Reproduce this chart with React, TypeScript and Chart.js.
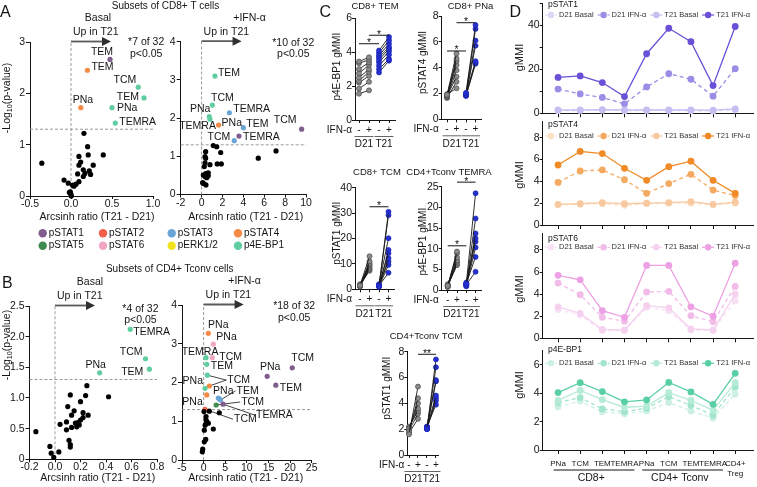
import React, { useEffect, useRef } from "react";
import { Chart, registerables } from "chart.js";

Chart.register(...registerables);

const FONT = "'Liberation Sans', Arial, Helvetica, sans-serif";
const INK = "#151515";

/* ======================= DATA ======================= */
const markerNames = ["pSTAT1", "pSTAT2", "pSTAT3", "pSTAT4", "pSTAT5", "pSTAT6", "pERK1/2", "p4E-BP1"];
const markerColors = ["#7f5d8e", "#f2604b", "#6aa5d8", "#f58a46", "#3f8b4f", "#f1a6c4", "#f0e21c", "#5fcda0"];
const pCutoff = 0.05;

// Panel A — CD8+ T cells, basal
const cd8BasalNsX = [-0.356, 0.158, 0.203, 0.393, 0.097, 0.21, 0.118, 0.097, 0.271, 0.15, 0.081, 0.15, 0.223, 0.239, 0.097, 0.061, -0.085, -0.033, 0.02, -0.008, 0.0, 0.004, -0.02, 0.17, 0.036];
const cd8BasalNsY = [0.64, 1.22, 0.96, 0.8, 0.77, 0.8, 0.66, 0.6, 0.6, 0.51, 0.43, 0.38, 0.49, 0.42, 0.28, 0.23, 0.31, 0.25, 0.21, 0.08, 0.03, 0.0, 0.07, 0.44, 0.19];
const cd8BasalSigX = [0.476, 0.2, 0.12, 0.82, 0.89, 0.5, 0.54];
const cd8BasalSigY = [2.66, 2.45, 1.72, 2.12, 1.91, 1.72, 1.42];
const cd8BasalSigMarker = ["pSTAT1", "pSTAT4", "pSTAT4", "p4E-BP1", "p4E-BP1", "p4E-BP1", "p4E-BP1"];
const cd8BasalSigSubset = ["TEM", "TEM", "PNa", "TCM", "TEM", "PNa", "TEMRA"];

// Panel A — CD8+ T cells, +IFN-α
const cd8IfnNsX = [1.12, 1.45, 1.83, 1.5, 1.89, 0.39, 0.39, 0.33, 0.8, 0.26, 0.39, 0.64, 0.17, 0.33, 0.64, 0.49, 0.1, 0.42, 0.17, 5.43, 7.13, 0.33];
const cd8IfnNsY = [1.28, 1.25, 1.1, 0.8, 0.8, 1.12, 0.95, 0.83, 0.78, 0.73, 0.55, 0.57, 0.51, 0.47, 0.49, 0.44, 0.31, 0.25, 0.29, 0.95, 1.14, 0.99];
const cd8IfnSigX = [1.28, 1.03, 0.74, 0.8, 1.63, 2.66, 4.0, 3.13, 3.58, 9.58];
const cd8IfnSigY = [3.1, 2.34, 2.04, 1.97, 1.82, 2.14, 1.75, 1.41, 1.53, 1.71];
const cd8IfnSigMarker = ["p4E-BP1", "p4E-BP1", "p4E-BP1", "p4E-BP1", "pSTAT4", "pSTAT3", "pSTAT3", "pSTAT3", "pSTAT1", "pSTAT1"];
const cd8IfnSigSubset = ["TEM", "TCM", "PNa", "TEMRA", "PNa", "TEMRA", "TEM", "TCM", "TEMRA", "TCM"];

// Panel B — CD4+ Tconv, basal
const cd4BasalNsX = [0.25, 0.12, 0.24, 0.42, 0.2, 0.1, 0.15, 0.13, 0.22, 0.26, 0.22, 0.04, 0.09, 0.2, 0.18, 0.16, 0.19, 0.17, 0.09, -0.15, 0.11, 0.12, 0.12, -0.04, 0.03, -0.03, -0.01, 0.13];
const cd4BasalNsY = [1.2, 1.05, 1.04, 1.02, 0.94, 0.86, 0.79, 0.72, 0.76, 0.72, 0.68, 0.57, 0.61, 0.64, 0.6, 0.59, 0.56, 0.53, 0.48, 0.45, 0.31, 0.24, 0.2, 0.21, 0.12, 0.1, 0.03, 0.52];
const cd4BasalSigX = [0.59, 0.71, 0.74, 0.35];
const cd4BasalSigY = [2.12, 1.64, 1.47, 1.41];
const cd4BasalSigMarker = ["p4E-BP1", "p4E-BP1", "p4E-BP1", "p4E-BP1"];
const cd4BasalSigSubset = ["TEMRA", "TCM", "TEM", "PNa"];

// Panel B — CD4+ Tconv, +IFN-α
const cd4IfnNsX = [1.32, 3.63, 0.56, 0.56, 1.09, 0.72, 2.24, 0.16, 0.49, 0.16, -0.21, -0.3, 0.09, 0.35];
const cd4IfnNsY = [1.26, 1.22, 1.12, 1.03, 0.95, 0.99, 0.8, 0.77, 0.53, 0.47, 0.28, 0.21, 1.25, 0.9];
const cd4IfnSigX = [1.09, 2.24, 0.56, 2.0, 0.72, 0.86, 1.32, 0.33, 0.72, 3.4, 3.9, 3.6, 2.9, 4.5, 0.33, 14.7, 16.7, 20.5];
const cd4IfnSigY = [3.27, 2.99, 2.64, 2.64, 2.47, 2.19, 1.91, 1.85, 1.68, 1.6, 1.55, 1.58, 1.42, 1.44, 1.31, 2.16, 1.93, 2.38];
const cd4IfnSigMarker = ["pSTAT4", "pSTAT6", "p4E-BP1", "pSTAT6", "p4E-BP1", "p4E-BP1", "pSTAT4", "p4E-BP1", "pSTAT4", "pSTAT3", "pSTAT3", "pSTAT3", "pSTAT5", "pSTAT1", "pSTAT2", "pSTAT1", "pSTAT1", "pSTAT1"];
const cd4IfnSigSubset = ["PNa", "PNa", "TEMRA", "TCM", "TEM", "TCM", "TCM", "PNa", "PNa", "PNa", "TEM", "TCM", "TCM", "TEMRA", "TCM", "PNa", "TEM", "TCM"];

// Panel C — paired donors (D21 / T21, basal / IFN-α)
const ifnTickLabels = ["-", "+", "-", "+"];
const cd8TemD21Basal = [3.45, 3.35, 3.0, 2.75, 2.5, 2.3, 2.2, 1.85, 1.55];
const cd8TemD21Ifn = [3.7, 3.55, 3.4, 3.25, 3.0, 2.85, 2.6, 2.25, 1.75];
const cd8TemT21Basal = [4.1, 3.95, 3.8, 3.7, 3.55, 3.4, 3.2, 3.0, 2.8];
const cd8TemT21Ifn = [4.9, 4.7, 4.5, 4.3, 4.2, 4.05, 3.85, 3.6, 3.5];

const cd8PnaD21Basal = [1.9, 1.85, 1.8, 1.75, 1.7, 1.8, 1.65, 1.95];
const cd8PnaD21Ifn = [5.1, 4.7, 4.5, 4.2, 3.8, 3.3, 2.9, 2.4];
const cd8PnaT21Basal = [2.05, 1.95, 1.9, 1.85, 2.0, 1.9, 1.8];
const cd8PnaT21Ifn = [7.3, 7.0, 6.1, 5.7, 4.5, 4.4, 4.3];

const cd8TcmD21Basal = [1.5, 1.2, 1.8, 1.0, 2.0, 1.4, 1.6, 1.3, 1.7];
const cd8TcmD21Ifn = [13.0, 11.0, 10.2, 9.8, 9.3, 8.8, 8.3, 7.8, 7.3];
const cd8TcmT21Basal = [1.2, 1.5, 2.0, 1.0, 1.8, 1.3, 1.6, 1.1, 1.4];
const cd8TcmT21Ifn = [30.5, 29.2, 20.1, 15.5, 14.2, 12.2, 10.9, 9.6, 6.5];

const cd4TemraD21Basal = [1.0, 0.8, 1.2, 0.7, 1.4, 0.9, 1.1];
const cd4TemraD21Ifn = [9.3, 8.9, 7.9, 7.2, 6.8, 6.4, 6.0];
const cd4TemraT21Basal = [1.5, 1.2, 0.9, 1.8, 1.4, 1.0, 1.6, 1.3];
const cd4TemraT21Ifn = [23.4, 17.3, 13.7, 12.5, 11.7, 10.3, 8.0, 4.4];

const cd4TcmD21Basal = [1.6, 1.8, 2.0, 2.1, 2.2, 1.9, 1.7];
const cd4TcmD21Ifn = [5.3, 4.4, 4.0, 3.6, 3.4, 3.2, 2.8];
const cd4TcmT21Basal = [2.0, 2.1, 2.2, 2.05, 2.15, 2.0, 2.1, 2.2];
const cd4TcmT21Ifn = [7.4, 6.8, 5.8, 5.7, 4.6, 4.4, 4.2, 3.9];

// Panel D — mean gMMI per subset
const dCategories: any[] = ["PNa", "TCM", "TEM", "TEMRA", "PNa", "TCM", "TEM", "TEMRA", ["CD4+", "Treg"]];
const dSeriesNames = ["D21 Basal", "D21 IFN-α", "T21 Basal", "T21 IFN-α"];
const dGroups: any[] = [["CD8+", 0, 3], ["CD4+ Tconv", 4, 7]];

const pstat1D21Basal = [1.2, 1.3, 1.4, 1.2, 1.3, 1.3, 1.2, 1.1, 1.6];
const pstat1D21Ifn = [11.0, 8.8, 7.2, 4.3, 12.0, 18.0, 15.5, 7.8, 20.3];
const pstat1T21Basal = [1.5, 1.5, 1.7, 1.5, 1.5, 1.5, 1.5, 1.4, 2.0];
const pstat1T21Ifn = [16.3, 17.0, 14.0, 7.6, 27.1, 38.7, 32.6, 12.6, 39.5];

const pstat4D21Basal = [1.85, 1.9, 1.95, 1.8, 1.95, 2.0, 2.0, 1.85, 2.0];
const pstat4D21Ifn = [3.9, 4.95, 5.05, 4.15, 2.9, 3.8, 4.65, 3.2, 2.7];
const pstat4T21Basal = [1.9, 1.95, 2.05, 1.95, 2.0, 2.05, 2.15, 1.9, 2.1];
const pstat4T21Ifn = [5.5, 6.75, 6.55, 5.2, 4.1, 5.35, 5.85, 4.1, 2.9];

const pstat6D21Basal = [2.6, 2.1, 0.7, 0.7, 2.8, 2.5, 0.75, 0.7, 3.4];
const pstat6D21Ifn = [5.0, 3.95, 1.9, 1.55, 4.2, 4.25, 2.05, 1.5, 4.7];
const pstat6T21Basal = [2.85, 2.25, 0.8, 0.75, 2.95, 2.75, 0.85, 0.75, 4.0];
const pstat6T21Ifn = [5.7, 5.3, 2.5, 1.9, 6.6, 6.6, 2.85, 2.0, 6.8];

const p4ebp1D21Basal = [3.05, 3.45, 2.7, 2.55, 2.75, 3.35, 2.75, 2.25, 3.95];
const p4ebp1D21Ifn = [3.35, 3.7, 2.9, 2.7, 2.95, 3.75, 3.15, 2.45, 4.45];
const p4ebp1T21Basal = [3.5, 4.2, 3.55, 3.0, 3.1, 4.05, 3.5, 2.8, 4.75];
const p4ebp1T21Ifn = [4.05, 4.75, 4.12, 3.4, 3.53, 4.77, 4.1, 3.22, 5.41];

/* ======================= STYLE / LAYOUT ======================= */
// label placement: [dx, dy, align, mode] mode: 0 plain, 1 leader+text, 2 leader only, 3 none
const cd8BasalLabelStyle: any[] = [[-8, -7, "c"], [4, -3, "l"], [2, -8, "c"], [-2, -7, "r"], [-5, -1, "r"], [5, 0, "l"], [4, -1, "l"]];
const cd8IfnLabelStyle: any[] = [[3, -3, "l"], [10, -7, "c"], [1, -7, "r"], [6, 7, "r"], [3, -2, "l"], [4, -4, "l"], [3, -4, "l"], [-4, -4, "r"], [4, 1, "l"], [-5, -9, "r"]];
const cd4BasalLabelStyle: any[] = [[3, 3, "l"], [-3, -7, "r"], [-6, 3, "r"], [-4, -8, "c"]];
const cd4IfnLabelStyle: any[] = [[10, -8, "c"], [3, -7, "l"], [-6, -6, "c"], [7, -1, "l"], [4, 2, "l"], [20, 5, "l", 1], [18, -6, "l", 2], [-2, -7, "r"], [-4, 7, "r"], [5, -7, "c"], [16, -9, "l", 1], [0, 0, "l", 3], [25, -3, "l", 1], [33, 11, "l", 1], [29, 10, "l", 1], [3, -9, "c"], [4, 3, "l"], [-1, -10, "l"]];

const ALIGN: any = { l: "left", c: "center", r: "right" };

const range = (min: number, max: number, step: number) => {
  const out: number[] = [];
  const n = Math.floor((max - min) / step + 1e-9);
  for (let i = 0; i <= n; i++) out.push(+(min + i * step).toFixed(6));
  return out;
};

function fixY(box: any) {
  return (s: any) => {
    s.width = box.l - box.L;
    s.paddingTop = 0; s.paddingBottom = 0; s.paddingLeft = 0; s.paddingRight = 0;
  };
}
function fixX(box: any) {
  return (s: any) => {
    s.height = box.xh;
    s.paddingTop = 0; s.paddingBottom = 0; s.paddingLeft = 0; s.paddingRight = 0;
  };
}
function layoutFor(box: any) {
  return { padding: { left: 0, top: box.t - box.T, right: box.R - box.r, bottom: box.B - box.b - box.xh } };
}
function linAxis(box: any, horizontal: boolean, o: any) {
  return {
    type: "linear",
    min: o.min,
    max: o.max,
    afterFit: horizontal ? fixX(box) : fixY(box),
    afterBuildTicks: (s: any) => { s.ticks = o.ticks.map((value: number) => ({ value })); },
    grid: { display: true, drawOnChartArea: false, drawTicks: true, tickLength: o.tl ?? 4, color: INK, lineWidth: 1 },
    border: { display: true, color: INK, width: 1 },
    ticks: {
      display: o.labels !== false,
      autoSkip: false, maxRotation: 0, minRotation: 0,
      padding: o.pad ?? 1, color: INK,
      font: { family: FONT, size: o.size ?? 10.5, lineHeight: o.lh ?? 1 },
      callback: o.fmt,
    },
  };
}
function baseOptions(box: any) {
  return {
    animation: false, responsive: false, devicePixelRatio: 1, events: [],
    layout: layoutFor(box),
    plugins: { legend: { display: false }, tooltip: { enabled: false }, title: { display: false } },
  };
}

// text helpers
function txt(ctx: any, s: string, x: number, y: number, size: number, align = "center", rot = 0, color = INK, baseline = "middle") {
  ctx.save();
  ctx.font = `${size}px ${FONT}`;
  ctx.fillStyle = color;
  ctx.textAlign = align;
  ctx.textBaseline = baseline;
  ctx.translate(x, y);
  if (rot) ctx.rotate(rot);
  ctx.fillText(s, 0, 0);
  ctx.restore();
}
function seg(ctx: any, x1: number, y1: number, x2: number, y2: number) {
  ctx.beginPath(); ctx.moveTo(x1, y1); ctx.lineTo(x2, y2); ctx.stroke();
}
function logTitle(ctx: any, cx: number, cy: number, size: number) {
  ctx.save();
  ctx.translate(cx, cy);
  ctx.rotate(-Math.PI / 2);
  ctx.fillStyle = INK; ctx.textBaseline = "middle"; ctx.textAlign = "left";
  const f1 = `${size}px ${FONT}`, f2 = `${size * 0.68}px ${FONT}`;
  ctx.font = f1; const w1 = ctx.measureText("-Log").width; const w3 = ctx.measureText("(p-value)").width;
  ctx.font = f2; const w2 = ctx.measureText("10").width;
  let x = -(w1 + w2 + w3) / 2;
  ctx.font = f1; ctx.fillText("-Log", x, 0); x += w1;
  ctx.font = f2; ctx.fillText("10", x, size * 0.32); x += w2;
  ctx.font = f1; ctx.fillText("(p-value)", x, 0);
  ctx.restore();
}

/* ======================= VOLCANO (A, B) ======================= */
function volcano(v: any) {
  const box = v.box;
  const colorOf = (m: string) => markerColors[markerNames.indexOf(m)];
  const P = (x: number, y: number) => [x - box.L, y - box.T];
  const deco = {
    id: "volcanoDeco",
    beforeDatasetsDraw(chart: any) {
      const { ctx, chartArea: ca, scales } = chart;
      const sx = scales.x, sy = scales.y;
      ctx.save();
      ctx.strokeStyle = "#9a9a9a"; ctx.lineWidth = 1; ctx.setLineDash([3, 2]);
      const yT = sy.getPixelForValue(-Math.log10(pCutoff));
      seg(ctx, ca.left, yT, ca.right, yT);
      const x0 = sx.getPixelForValue(0);
      seg(ctx, x0, ca.bottom, x0, ca.top - 1);
      ctx.setLineDash([]);
      ctx.strokeStyle = INK; ctx.lineWidth = 0.8;
      v.sigX.forEach((xv: number, i: number) => {
        const st = v.labelStyle[i];
        if (st[3] !== 1 && st[3] !== 2) return;
        const px = sx.getPixelForValue(xv), py = sy.getPixelForValue(v.sigY[i]);
        seg(ctx, px, py, px + st[0] - 1, py + st[1]);
      });
      ctx.restore();
    },
    afterDatasetsDraw(chart: any) {
      const { ctx, chartArea: ca, scales } = chart;
      const sx = scales.x, sy = scales.y;
      v.sigX.forEach((xv: number, i: number) => {
        const st = v.labelStyle[i];
        if (st[3] === 2 || st[3] === 3) return;
        const px = sx.getPixelForValue(xv), py = sy.getPixelForValue(v.sigY[i]);
        txt(ctx, v.sigSubset[i], px + st[0], py + st[1], 10.5, ALIGN[st[2]]);
      });
      const x0 = sx.getPixelForValue(0);
      const ay = ca.top - 0.5;
      ctx.save();
      ctx.strokeStyle = "#5a5a5a"; ctx.fillStyle = "#303030"; ctx.lineWidth = 1.8;
      seg(ctx, x0, ay, x0 + 32, ay);
      ctx.beginPath(); ctx.moveTo(x0 + 40, ay); ctx.lineTo(x0 + 31, ay - 4.5); ctx.lineTo(x0 + 31, ay + 4.5); ctx.closePath(); ctx.fill();
      ctx.restore();
      txt(ctx, "Up in T21", x0 + 2, ca.top - 9.5, 10.5, "left");
      txt(ctx, v.condition, x0 + v.condDx, ca.top - 23.5, 10.5, "center");
      const cx = sx.getPixelForValue(v.countAt[0]), cy = sy.getPixelForValue(v.countAt[1]);
      txt(ctx, v.count, cx, cy, 10.5, "center");
      txt(ctx, "p<0.05", cx, cy + 11.5, 10.5, "center");
      const xt = P(v.xTitleAt[0], v.xTitleAt[1]);
      txt(ctx, "Arcsinh ratio (T21 - D21)", xt[0], xt[1], 10.5, "center");
      if (v.yTitleAt) { const yt = P(v.yTitleAt[0], v.yTitleAt[1]); logTitle(ctx, yt[0], yt[1], 10.5); }
      if (v.letter) { const lp = P(v.letter[1], v.letter[2]); txt(ctx, v.letter[0], lp[0], lp[1], 16, "left", 0, INK, "alphabetic"); }
      if (v.header) { const hp = P(v.header[1], v.header[2]); txt(ctx, v.header[0], hp[0], hp[1], 10, "center"); }
      if (v.legend) {
        const cols = [42.7, 103, 171.7, 238];
        const rows = [233.3, 245.7];
        markerNames.forEach((m, i) => {
          const [mx, my] = P(cols[i % 4], rows[Math.floor(i / 4)]);
          ctx.save();
          ctx.fillStyle = markerColors[i];
          ctx.beginPath(); ctx.arc(mx, my, 4.2, 0, Math.PI * 2); ctx.fill();
          ctx.restore();
          txt(ctx, m, mx + 6, my, 10, "left");
        });
      }
    },
  };
  const ptStyle = { pointRadius: 2.6, pointBorderWidth: 0, pointHoverRadius: 2.6, clip: false, showLine: false };
  return {
    type: "scatter",
    data: {
      datasets: [
        { ...ptStyle, data: v.nsX.map((x: number, i: number) => ({ x, y: v.nsY[i] })), pointBackgroundColor: "#000", backgroundColor: "#000" },
        { ...ptStyle, data: v.sigX.map((x: number, i: number) => ({ x, y: v.sigY[i] })), pointBackgroundColor: v.sigMarker.map(colorOf), backgroundColor: v.sigMarker.map(colorOf) },
      ],
    },
    options: {
      ...baseOptions(box),
      scales: {
        x: linAxis(box, true, { min: v.xMin, max: v.xMax, ticks: range(v.xMin, v.xMax, v.xStep), fmt: (val: number) => val.toFixed(v.xDec), tl: 3, pad: 0, size: 10.5 }),
        y: linAxis(box, false, { min: 0, max: v.yMax, ticks: range(0, v.yMax, v.yStep), fmt: (val: number) => (val === 0 ? "0" : val.toFixed(v.yDec)), tl: 4, pad: 1, size: 10.5 }),
      },
    },
    plugins: [deco],
  };
}

/* ======================= PAIRED (C) ======================= */
function paired(p: any) {
  const box = p.box;
  const P = (x: number, y: number) => [x - box.L, y - box.T];
  const mk = (a: number[], b: number[], x0: number, fill: string, stroke: string) =>
    a.map((v, i) => ({
      data: [{ x: x0, y: v }, { x: x0 + 1, y: b[i] }],
      showLine: true, borderColor: "#1a1a1a", borderWidth: 0.9,
      pointRadius: 2.5, pointHoverRadius: 2.5, pointBackgroundColor: fill, pointBorderColor: stroke, pointBorderWidth: 0.7, clip: false,
    }));
  const deco = {
    id: "pairedDeco",
    afterDraw(chart: any) {
      const { ctx, chartArea: ca, scales } = chart;
      const sx = scales.x, sy = scales.y;
      ctx.save();
      ctx.strokeStyle = INK; ctx.lineWidth = 1;
      p.brackets.forEach((br: any) => {
        const yy = sy.getPixelForValue(br[2]);
        const xa = sx.getPixelForValue(br[0]), xb = sx.getPixelForValue(br[1]);
        seg(ctx, xa, yy, xb, yy);
        txt(ctx, br[3], (xa + xb) / 2, yy + 2.4, 10.5, "center", 0, INK, "alphabetic");
      });
      txt(ctx, "IFN-α", ca.left - 3, ca.bottom + 10, 10, "right");
      ctx.strokeStyle = "#666";
      [["D21", 0, 1], ["T21", 2, 3]].forEach((g: any) => {
        const xa = sx.getPixelForValue(g[1]) - 4.5, xb = sx.getPixelForValue(g[2]) + 4.5;
        seg(ctx, xa, ca.bottom + 16.5, xb, ca.bottom + 16.5);
        txt(ctx, g[0], (xa + xb) / 2, ca.bottom + 24.5, 10, "center");
      });
      ctx.restore();
      const tp = P(p.titleAt[0], p.titleAt[1]);
      txt(ctx, p.title, tp[0], tp[1], 9.5, "center");
      const yp = P(p.yTitleAt[0], p.yTitleAt[1]);
      txt(ctx, p.yTitle, yp[0], yp[1], 10, "center", -Math.PI / 2);
      if (p.letter) { const lp = P(p.letter[1], p.letter[2]); txt(ctx, p.letter[0], lp[0], lp[1], 16, "left", 0, INK, "alphabetic"); }
    },
  };
  return {
    type: "scatter",
    data: {
      datasets: [
        ...mk(p.d21Basal, p.d21Ifn, 0, "#8a8a8a", "#4a4a4a"),
        ...mk(p.t21Basal, p.t21Ifn, 2, "#2430d0", "#1c25b0"),
      ],
    },
    options: {
      ...baseOptions(box),
      scales: {
        x: linAxis(box, true, { min: p.xMin, max: p.xMax, ticks: [0, 1, 2, 3], fmt: (val: number) => ifnTickLabels[val], tl: 3, pad: 2, size: 10 }),
        y: linAxis(box, false, { min: 0, max: p.yMax, ticks: range(0, p.yMax, p.yStep), fmt: (val: number) => String(val), tl: 3, pad: 0, size: 10.5 }),
      },
    },
    plugins: [deco],
  };
}

/* ======================= LINES (D) ======================= */
const dX = { min: -0.693, max: 8.83 };
function lines(d: any) {
  const box = d.box;
  const P = (x: number, y: number) => [x - box.L, y - box.T];
  const dashed = [true, true, false, false];
  const order = [3, 2, 1, 0];
  const deco = {
    id: "linesDeco",
    afterDraw(chart: any) {
      const { ctx, scales } = chart;
      const sx = scales.x;
      const np = P(548, d.nameY);
      txt(ctx, d.name, np[0], np[1], 8.5, "left");
      ctx.save();
      ctx.font = `7.5px ${FONT}`;
      let cur = 545;
      dSeriesNames.forEach((nm, k) => {
        const tw = ctx.measureText(nm).width;
        const [sx0, my] = P(cur, d.legendY);
        const mx = sx0 + 6;
        ctx.save();
        ctx.strokeStyle = d.colors[k]; ctx.fillStyle = d.colors[k]; ctx.lineWidth = 1.2;
        if (dashed[k]) ctx.setLineDash([3, 2]);
        seg(ctx, sx0, my, sx0 + 12, my);
        ctx.setLineDash([]);
        ctx.beginPath(); ctx.arc(mx, my, 3.2, 0, Math.PI * 2); ctx.fill();
        ctx.restore();
        txt(ctx, nm, sx0 + 14, my, 7.5, "left", 0, "#333");
        cur += 14 + tw + 4;
      });
      ctx.restore();
      const yp = P(520, d.yTitleY);
      txt(ctx, "gMMI", yp[0], yp[1], 11, "center", -Math.PI / 2);
      if (d.letter) { const lp = P(d.letter[1], d.letter[2]); txt(ctx, d.letter[0], lp[0], lp[1], 16, "left", 0, INK, "alphabetic"); }
      if (d.groups) {
        ctx.save(); ctx.strokeStyle = INK; ctx.lineWidth = 1;
        dGroups.forEach((g: any) => {
          const xa = sx.getPixelForValue(g[1] - 0.2), xb = sx.getPixelForValue(g[2] + 0.45);
          const ly = P(0, 470)[1];
          seg(ctx, xa, ly, xb, ly);
          txt(ctx, g[0], (sx.getPixelForValue(g[1]) + sx.getPixelForValue(g[2])) / 2, P(0, 478)[1], 10.5, "center");
        });
        ctx.restore();
      }
    },
  };
  return {
    type: "line",
    data: {
      datasets: d.series.map((s: number[], k: number) => ({
        data: s.map((y, i) => ({ x: i, y })),
        borderColor: d.colors[k], backgroundColor: d.colors[k], pointBackgroundColor: d.colors[k],
        pointBorderWidth: 0, pointRadius: 3.4, pointHoverRadius: 3.4, borderWidth: 1.3,
        borderDash: dashed[k] ? [4, 3] : [], tension: 0, clip: false, order: order[k], fill: false,
      })),
    },
    options: {
      ...baseOptions(box),
      scales: {
        x: linAxis(box, true, { min: dX.min, max: dX.max, ticks: range(0, 8, 1), fmt: (val: number) => dCategories[val], labels: !!d.showX, tl: 4, pad: 5, size: 8, lh: 1.2 }),
        y: linAxis(box, false, { min: 0, max: d.yMax, ticks: range(0, d.yMax, d.yStep), fmt: (val: number) => (val % d.yLabelEvery === 0 ? String(val) : ""), tl: 3, pad: 0, size: 10.5 }),
      },
    },
    plugins: [deco],
  };
}

/* ======================= SPECS ======================= */
const charts: any[] = [
  {
    box: { L: 0, T: 0, R: 330, B: 256, l: 30, t: 42, r: 153, b: 196, xh: 28 },
    build: (box: any) => volcano({
      box, xMin: -0.5, xMax: 1.0, xStep: 0.5, xDec: 1, yMax: 3, yStep: 1, yDec: 0,
      nsX: cd8BasalNsX, nsY: cd8BasalNsY, sigX: cd8BasalSigX, sigY: cd8BasalSigY, sigMarker: cd8BasalSigMarker, sigSubset: cd8BasalSigSubset,
      labelStyle: cd8BasalLabelStyle, condition: "Basal", condDx: 27, count: "*7 of 32", countAt: [0.917, 2.99],
      xTitleAt: [97, 217], yTitleAt: [7, 98], letter: ["A", 0, 16.7], header: ["Subsets of CD8+ T cells", 165.5, 6], legend: true,
    }),
  },
  {
    box: { L: 160, T: 0, R: 330, B: 230, l: 180.7, t: 41.7, r: 306, b: 194.5, xh: 28 },
    build: (box: any) => volcano({
      box, xMin: -2, xMax: 10, xStep: 2, xDec: 0, yMax: 4, yStep: 1, yDec: 0,
      nsX: cd8IfnNsX, nsY: cd8IfnNsY, sigX: cd8IfnSigX, sigY: cd8IfnSigY, sigMarker: cd8IfnSigMarker, sigSubset: cd8IfnSigSubset,
      labelStyle: cd8IfnLabelStyle, condition: "+IFN-α", condDx: 48, count: "*10 of 32", countAt: [8.78, 3.97],
      xTitleAt: [245.8, 216.7],
    }),
  },
  {
    box: { L: 0, T: 258, R: 330, B: 487, l: 29.5, t: 306, r: 157, b: 459.3, xh: 26 },
    build: (box: any) => volcano({
      box, xMin: -0.2, xMax: 0.8, xStep: 0.2, xDec: 1, yMax: 2.5, yStep: 0.5, yDec: 1,
      nsX: cd4BasalNsX, nsY: cd4BasalNsY, sigX: cd4BasalSigX, sigY: cd4BasalSigY, sigMarker: cd4BasalSigMarker, sigSubset: cd4BasalSigSubset,
      labelStyle: cd4BasalLabelStyle, condition: "Basal", condDx: 35, count: "*4 of 32", countAt: [0.67, 2.45],
      xTitleAt: [97.8, 478.3], yTitleAt: [7, 345], letter: ["B", 2, 288.3], header: ["Subsets of CD4+ Tconv cells", 169.7, 269],
    }),
  },
  {
    box: { L: 160, T: 262, R: 330, B: 487, l: 182, t: 305, r: 311.7, b: 460, xh: 26 },
    build: (box: any) => volcano({
      box, xMin: -5, xMax: 25, xStep: 5, xDec: 0, yMax: 4, yStep: 1, yDec: 0,
      nsX: cd4IfnNsX, nsY: cd4IfnNsY, sigX: cd4IfnSigX, sigY: cd4IfnSigY, sigMarker: cd4IfnSigMarker, sigSubset: cd4IfnSigSubset,
      labelStyle: cd4IfnLabelStyle, condition: "+IFN-α", condDx: 41, count: "*18 of 32", countAt: [20.95, 3.97],
      xTitleAt: [245.8, 478.3],
    }),
  },
  {
    box: { L: 318, T: 0, R: 412, B: 152, l: 355, t: 18.3, r: 395, b: 120, xh: 32 },
    build: (box: any) => paired({
      box, xMin: -0.4, xMax: 3.6, yMax: 6, yStep: 2,
      d21Basal: cd8TemD21Basal, d21Ifn: cd8TemD21Ifn, t21Basal: cd8TemT21Basal, t21Ifn: cd8TemT21Ifn,
      brackets: [[0, 2, 4.5, "*"], [1, 3, 5.0, "*"]],
      title: "CD8+ TEM", titleAt: [375, 6.7], yTitle: "p4E-BP1 gMMI", yTitleAt: [337, 66.7], letter: ["C", 319.5, 16.7],
    }),
  },
  {
    box: { L: 405, T: 0, R: 505, B: 152, l: 441.7, t: 16, r: 481.7, b: 119.3, xh: 32 },
    build: (box: any) => paired({
      box, xMin: -0.56, xMax: 3.65, yMax: 8, yStep: 2,
      d21Basal: cd8PnaD21Basal, d21Ifn: cd8PnaD21Ifn, t21Basal: cd8PnaT21Basal, t21Ifn: cd8PnaT21Ifn,
      brackets: [[0, 2, 5.29, "*"], [1, 3, 7.48, "*"]],
      title: "CD8+ PNa", titleAt: [470.5, 6.7], yTitle: "pSTAT4 gMMI", yTitleAt: [423.5, 62.5],
    }),
  },
  {
    box: { L: 318, T: 160, R: 412, B: 322, l: 355, t: 187.7, r: 394, b: 289.3, xh: 32 },
    build: (box: any) => paired({
      box, xMin: -0.53, xMax: 3.58, yMax: 40, yStep: 10,
      d21Basal: cd8TcmD21Basal, d21Ifn: cd8TcmD21Ifn, t21Basal: cd8TcmT21Basal, t21Ifn: cd8TcmT21Ifn,
      brackets: [[1, 3, 32.5, "*"]],
      title: "CD8+ TCM", titleAt: [377, 172.7], yTitle: "pSTAT1 gMMI", yTitleAt: [337, 233.3],
    }),
  },
  {
    box: { L: 405, T: 160, R: 505, B: 322, l: 441.7, t: 186.7, r: 481.7, b: 290, xh: 32 },
    build: (box: any) => paired({
      box, xMin: -0.65, xMax: 3.66, yMax: 25, yStep: 5,
      d21Basal: cd4TemraD21Basal, d21Ifn: cd4TemraD21Ifn, t21Basal: cd4TemraT21Basal, t21Ifn: cd4TemraT21Ifn,
      brackets: [[0, 2, 10.7, "*"], [1, 3, 26.1, "*"]],
      title: "CD4+Tconv TEMRA", titleAt: [449, 172.7], yTitle: "p4E-BP1 gMMI", yTitleAt: [423.5, 241.7],
    }),
  },
  {
    box: { L: 365, T: 326, R: 475, B: 487, l: 407.3, t: 351.7, r: 438.3, b: 455, xh: 30 },
    build: (box: any) => paired({
      box, xMin: -0.19, xMax: 3.26, yMax: 8, yStep: 2,
      d21Basal: cd4TcmD21Basal, d21Ifn: cd4TcmD21Ifn, t21Basal: cd4TcmT21Basal, t21Ifn: cd4TcmT21Ifn,
      brackets: [[1, 3, 7.8, "**"]],
      title: "CD4+Tconv TCM", titleAt: [426, 336], yTitle: "pSTAT1 gMMI", yTitleAt: [387, 388.3],
    }),
  },
  {
    box: { L: 500, T: 0, R: 757, B: 118, l: 542.7, t: 2.9, r: 756.5, b: 113.3, xh: 4.7 },
    build: (box: any) => lines({
      box, name: "pSTAT1", nameY: 5, legendY: 15, yTitleY: 57.5, yMax: 50, yStep: 10, yLabelEvery: 20,
      series: [pstat1D21Basal, pstat1D21Ifn, pstat1T21Basal, pstat1T21Ifn],
      colors: ["#ddd7f7", "#9d8ce5", "#c6bdf1", "#6a50d7"], letter: ["D", 509.5, 16.7],
    }),
  },
  {
    box: { L: 500, T: 118, R: 757, B: 230, l: 542.7, t: 119.5, r: 756.5, b: 225, xh: 5 },
    build: (box: any) => lines({
      box, name: "pSTAT4", nameY: 125, legendY: 136, yTitleY: 175, yMax: 9.5, yStep: 2, yLabelEvery: 2,
      series: [pstat4D21Basal, pstat4D21Ifn, pstat4T21Basal, pstat4T21Ifn],
      colors: ["#fbe0c4", "#f5aa62", "#f8c9a0", "#f08a26"],
    }),
  },
  {
    box: { L: 500, T: 230, R: 757, B: 343, l: 542.7, t: 231.4, r: 756.5, b: 338.3, xh: 4.7 },
    build: (box: any) => lines({
      box, name: "pSTAT6", nameY: 238.3, legendY: 247.3, yTitleY: 289, yMax: 9.5, yStep: 2, yLabelEvery: 2,
      series: [pstat6D21Basal, pstat6D21Ifn, pstat6T21Basal, pstat6T21Ifn],
      colors: ["#f8e1f4", "#f2bce9", "#f5d1ef", "#eda0e3"],
    }),
  },
  {
    box: { L: 500, T: 343, R: 757, B: 487, l: 542.7, t: 350.8, r: 756.5, b: 450, xh: 36 },
    build: (box: any) => lines({
      box, name: "p4E-BP1", nameY: 350, legendY: 363.3, yTitleY: 385, yMax: 7, yStep: 2, yLabelEvery: 2,
      series: [p4ebp1D21Basal, p4ebp1D21Ifn, p4ebp1T21Basal, p4ebp1T21Ifn],
      colors: ["#cdf0e3", "#a2e5cc", "#b6ebd6", "#5bcfa4"], showX: true, groups: true,
    }),
  },
];

/* ======================= COMPONENTS ======================= */
function ChartCanvas({ spec }: { spec: any }) {
  const ref = useRef<HTMLCanvasElement>(null);
  const box = spec.box;
  const w = Math.round(box.R - box.L), h = Math.round(box.B - box.T);
  useEffect(() => {
    if (!ref.current) return;
    const chart = new Chart(ref.current, spec.build(box));
    return () => chart.destroy();
  }, []);
  return (
    <canvas
      ref={ref}
      width={w}
      height={h}
      style={{ position: "absolute", left: box.L, top: box.T, width: w, height: h }}
    />
  );
}

export default function App() {
  return (
    <div style={{ position: "absolute", left: 0, top: 0, width: 757, height: 487, background: "#fff", overflow: "hidden" }}>
      {charts.map((c, i) => (
        <ChartCanvas key={i} spec={c} />
      ))}
    </div>
  );
}
